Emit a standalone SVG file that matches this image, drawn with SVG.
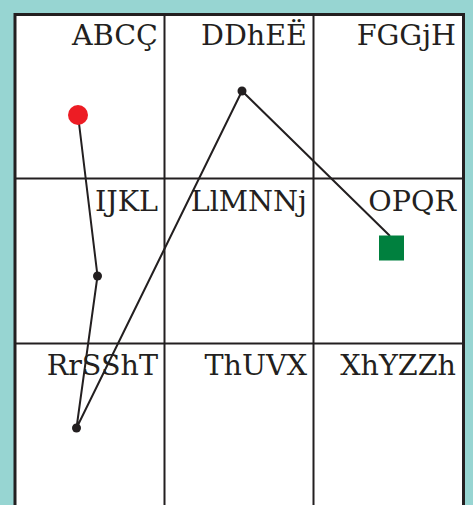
<svg xmlns="http://www.w3.org/2000/svg" width="473" height="505" viewBox="0 0 473 505">
<style>
.grid{stroke:#231f20;stroke-width:2;fill:none}
.outer{stroke:#231f20;stroke-width:3;fill:#ffffff}
.lbl{font-family:"DejaVu Serif","Liberation Serif",serif;font-size:28.6px;fill:#231f20;text-anchor:end}
.conn{stroke:#231f20;stroke-width:2;fill:none}
.dot{fill:#231f20}
</style>
<rect x="0" y="0" width="473" height="505" fill="#97d5d2"/>
<g id="grid">
<rect class="outer" x="15" y="14.5" width="448.5" height="500"/>
<line class="grid" x1="164.5" y1="14.5" x2="164.5" y2="505"/>
<line class="grid" x1="313.5" y1="14.5" x2="313.5" y2="505"/>
<line class="grid" x1="15" y1="178.5" x2="463.5" y2="178.5"/>
<line class="grid" x1="15" y1="343.5" x2="463.5" y2="343.5"/>
</g>
<g id="labels">
<text class="lbl" x="158" y="45">ABCÇ</text>
<text class="lbl" x="307" y="45">DDhEË</text>
<text class="lbl" x="456" y="45">FGGjH</text>
<text class="lbl" x="158" y="211">IJKL</text>
<text class="lbl" x="307" y="211">LlMNNj</text>
<text class="lbl" x="456" y="211">OPQR</text>
<text class="lbl" x="158" y="375">RrSShT</text>
<text class="lbl" x="307" y="375">ThUVX</text>
<text class="lbl" x="456" y="375">XhYZZh</text>
</g>
<g id="connectors">
<polyline class="conn" points="78,115 97.5,276 76.5,428 242,91 390,236"/>
</g>
<g id="node-start"><circle cx="78" cy="115" r="10" fill="#ed1c24"/></g>
<g id="node-a"><circle class="dot" cx="97.5" cy="276" r="4.5"/></g>
<g id="node-b"><circle class="dot" cx="76.5" cy="428" r="4.5"/></g>
<g id="node-c"><circle class="dot" cx="242" cy="91" r="4.5"/></g>
<g id="node-end"><rect x="379" y="235.5" width="25" height="25" fill="#00803e"/></g>
</svg>
